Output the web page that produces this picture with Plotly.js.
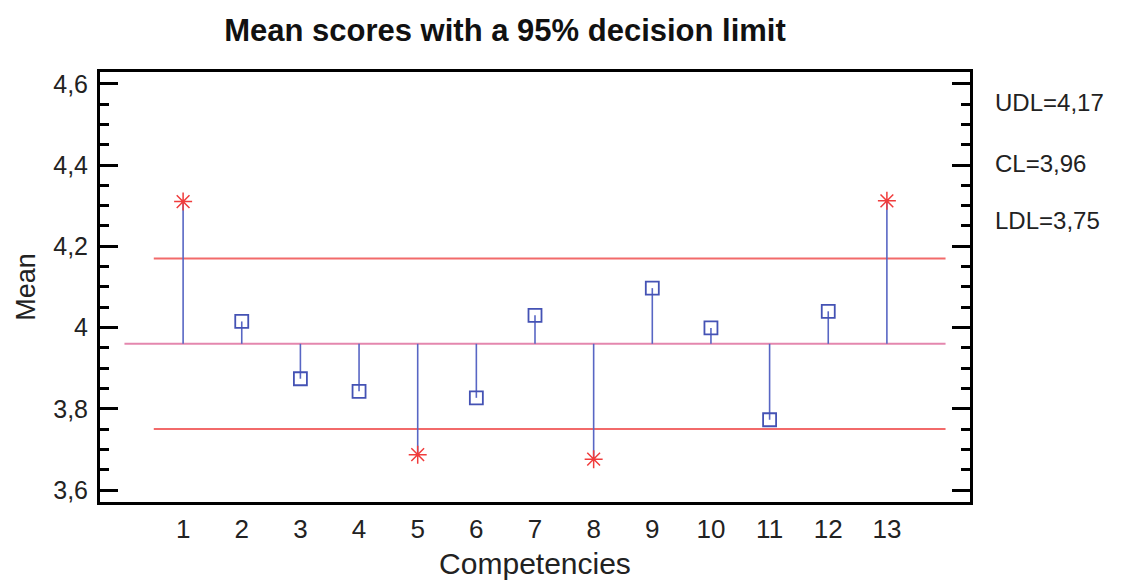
<!DOCTYPE html>
<html>
<head>
<meta charset="utf-8">
<script src="https://cdn.plot.ly/plotly-3.0.1.min.js"></script>
<style>body{margin:0;background:#fff}#chart{width:1121px;height:580px}</style>
</head>
<body>
<div id="chart"></div>
<script>
const competencies = [1,2,3,4,5,6,7,8,9,10,11,12,13];
const means = [4.310,4.015,3.874,3.843,3.687,3.827,4.030,3.676,4.097,3.999,3.773,4.040,4.312];
const CL = 3.96, UDL = 4.17, LDL = 3.75;
const clRange = [0, 14];
const limitRange = [0.5, 14];
const yTickVals = [3.6,3.8,4.0,4.2,4.4,4.6];
const yTickText = ['3,6','3,8','4','4,2','4,4','4,6'];
const yMinorVals = [3.65,3.7,3.75,3.85,3.9,3.95,4.05,4.1,4.15,4.25,4.3,4.35,4.45,4.5,4.55];
const limitLabels = ['UDL=4,17','CL=3,96','LDL=3,75'];

const stemX = [], stemY = [];
competencies.forEach((c,i)=>{ stemX.push(c,c,null); stemY.push(CL,means[i],null); });
const inX=[],inY=[],outX=[],outY=[];
competencies.forEach((c,i)=>{
  if (means[i] > UDL || means[i] < LDL) { outX.push(c); outY.push(means[i]); }
  else { inX.push(c); inY.push(means[i]); }
});

const traces = [
  {x: limitRange, y:[UDL,UDL], mode:'lines', line:{color:'#f26a6a', width:2}, hoverinfo:'skip'},
  {x: limitRange, y:[LDL,LDL], mode:'lines', line:{color:'#f26a6a', width:2}, hoverinfo:'skip'},
  {x: clRange, y:[CL,CL], mode:'lines', line:{color:'#e487ae', width:2}, hoverinfo:'skip'},
  {x: stemX, y: stemY, mode:'lines', line:{color:'#5866c4', width:1.6}, hoverinfo:'skip'},
  {x: inX, y: inY, mode:'markers', marker:{symbol:'square-open', size:13, color:'#4452b4', line:{width:1.8, color:'#4452b4'}}},
  {x: outX, y: outY, mode:'markers', marker:{symbol:'asterisk-open', size:15, color:'#f03c3c', line:{width:1.5, color:'#f03c3c'}}},
  {x:[7], y:[4], yaxis:'y2', mode:'markers', marker:{opacity:0}, hoverinfo:'skip'}
];

const yr = [3.5706, 4.629];
const minorSpec = {tickvals:yMinorVals, ticks:'inside', ticklen:9, tickwidth:3, tickcolor:'#000', showgrid:false};
const layout = {
  width:1121, height:580,
  margin:{l:100, r:151, t:72, b:78},
  paper_bgcolor:'#fff', plot_bgcolor:'#fff',
  showlegend:false,
  font:{family:'Liberation Sans, Arial, sans-serif', color:'#111'},
  title:{text:'<b>Mean scores with a 95% decision limit</b>', x:505/1121, xref:'container', xanchor:'center', y:1-30/580, yref:'container', yanchor:'middle', font:{size:31, color:'#111'}},
  xaxis:{range:[-0.417,14.417], tickvals:competencies, ticktext:competencies.map(String), ticks:'', ticklabelstandoff:2, showgrid:false, zeroline:false, showline:true, linecolor:'#000', linewidth:3, mirror:true, tickfont:{size:26, color:'#222'}, title:{text:'Competencies', font:{size:30, color:'#222'}, standoff:12}},
  yaxis:{range:yr, tickvals:yTickVals, ticktext:yTickText, ticks:'inside', ticklen:18, tickwidth:3, tickcolor:'#000', ticklabelstandoff:4, minor:minorSpec, showgrid:false, zeroline:false, showline:true, linecolor:'#000', linewidth:3, mirror:true, tickfont:{size:25, color:'#222'}, title:{text:'Mean', font:{size:27, color:'#222'}, standoff:10}},
  yaxis2:{overlaying:'y', side:'right', range:yr, tickvals:yTickVals, showticklabels:false, ticks:'inside', ticklen:18, tickwidth:3, tickcolor:'#000', minor:minorSpec, showgrid:false, zeroline:false, showline:false},
  annotations: limitLabels.map((t,i)=>({text:t, xref:'paper', yref:'paper', x:(993-100)/870, y:1-([103,163,220][i]-72)/430, xanchor:'left', yanchor:'middle', showarrow:false, font:{size:24, color:'#222'}}))
};
Plotly.newPlot('chart', traces, layout, {displayModeBar:false, staticPlot:true});
</script>
</body>
</html>
